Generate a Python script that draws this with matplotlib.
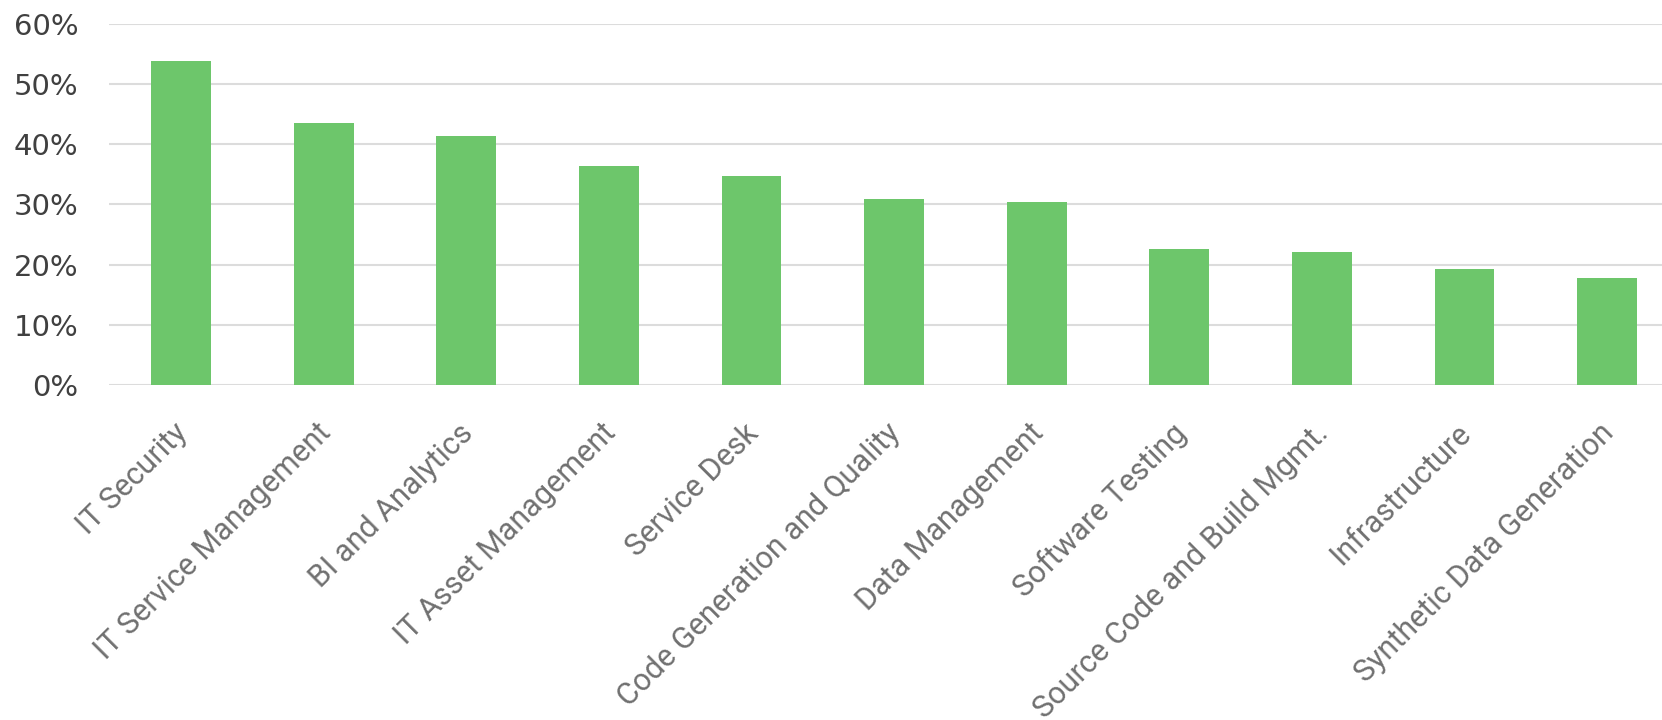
import matplotlib.pyplot as plt
import matplotlib.transforms as mtransforms
import numpy as np

categories = ["IT Security", "IT Service Management", "BI and Analytics",
              "IT Asset Management", "Service Desk", "Code Generation and Quality",
              "Data Management", "Software Testing", "Source Code and Build Mgmt.",
              "Infrastructure", "Synthetic Data Generation"]
values = [53.8, 43.6, 41.3, 36.4, 34.8, 30.9, 30.4, 22.6, 22.1, 19.2, 17.7]
yticks = [0, 10, 20, 30, 40, 50, 60]

fig = plt.figure(figsize=(16.62, 7.2), dpi=100)
ax = fig.add_axes([0.0656, 0.4653, 0.9344, 0.5014])

x = np.arange(len(categories))
ax.bar(x, values, width=0.42, color='#6DC66B', zorder=2)

ax.set_ylim(0, 60)
ax.set_xlim(-0.505, 10.385)
ax.set_yticks(yticks)
ax.set_yticklabels([f"{t}%" for t in yticks], fontsize=21, color='#404040',
                   family='DejaVu Sans')
ax.yaxis.grid(True, color='#dcdcdc', linewidth=1.5, zorder=0)
ax.set_axisbelow(True)
ax.tick_params(axis='y', length=0, pad=22)
ax.tick_params(axis='x', length=0, pad=24)

ax.set_xticks(x)
ax.set_xticklabels(categories, rotation=45, ha='right', va='top',
                   rotation_mode='anchor', fontsize=22, color='#707070',
                   family='Roboto')
# shift the rotated labels a little to the left
offset = mtransforms.ScaledTranslation(-8 / 100, 0, fig.dpi_scale_trans)
for lab in ax.get_xticklabels():
    lab.set_transform(lab.get_transform() + offset)

for s in ax.spines.values():
    s.set_visible(False)

fig.savefig('out.png', dpi=100)
